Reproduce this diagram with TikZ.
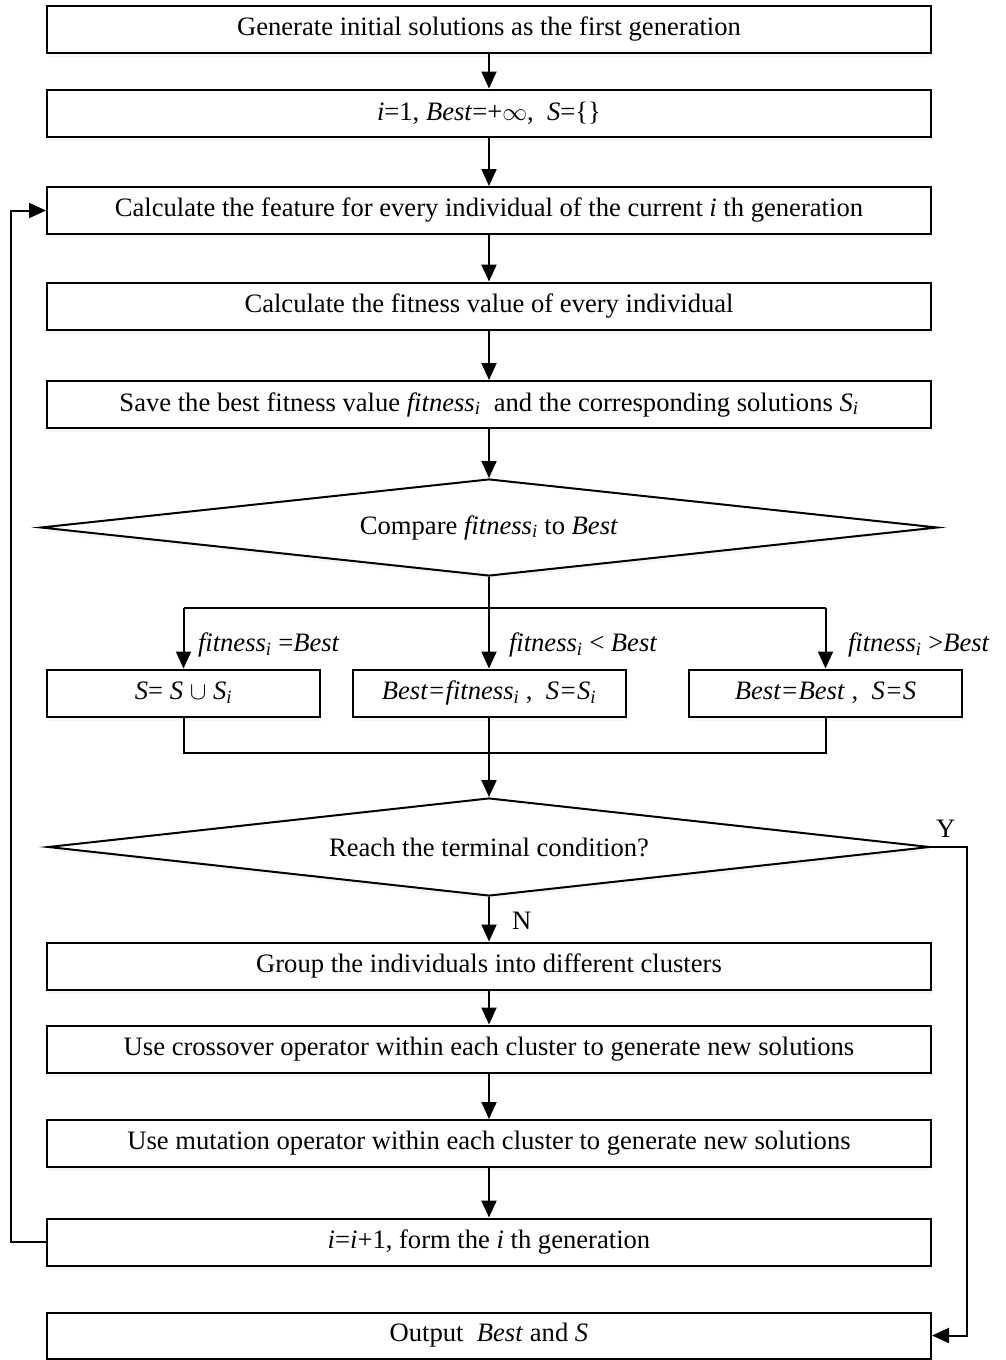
\documentclass[tikz,border=0pt]{standalone}
\usepackage{fontspec}
\setmainfont{Liberation Serif}
\usetikzlibrary{arrows.meta,shapes.geometric,shadows}
\definecolor{shadowblue}{RGB}{232,239,249}
\newcommand{\sub}[2]{\textit{#1}\textsubscript{\textit{#2}}}
\begin{document}
\begin{tikzpicture}[x=1pt,y=-1pt,
  font=\fontsize{26.6}{30}\selectfont,
  line width=2pt,
  haze/.style={drop shadow={shadow xshift=1pt,shadow yshift=-4pt,fill=shadowblue,draw=none}},
  box/.style={draw,fill=white,minimum width=884pt,minimum height=47pt,inner sep=0pt,haze},
  smallbox/.style={draw,fill=white,minimum width=273pt,minimum height=47pt,inner sep=0pt,haze},
  decision/.style={draw,fill=white,shape=diamond,aspect=9,inner sep=0pt,haze},
  arr/.style={-{Triangle[length=17pt,width=15pt]}},
  lbl/.style={anchor=west,inner sep=0pt},
]
\useasboundingbox (0,0) rectangle (1006,1360);

% main column
\node[box] (b1) at (489,29) {Generate initial solutions as the first generation};
\node[box] (b2) at (489,113) {\textit{i}=1, \textit{Best}=+$\infty$,\ \ \textit{S}=\{\}};
\node[box] (b3) at (489,210.5) {Calculate the feature for every individual of the current \textit{i} th generation};
\node[box] (b4) at (489,306) {Calculate the fitness value of every individual};
\node[box] (b5) at (489,404.5) {Save the best fitness value \sub{fitness}{i}\ \ and the corresponding solutions \sub{S}{i}};
\node[decision,minimum width=897pt,minimum height=97pt] (d1) at (489,527.5) {Compare \sub{fitness}{i} to \textit{Best}};

% three branches
\node[smallbox] (bA) at (183.5,693) {\textit{S}= \textit{S} $\cup$ \sub{S}{i}};
\node[smallbox] (bB) at (489,693) {\textit{Best=}\sub{fitness}{i} ,\ \ \textit{S=}\sub{S}{i}};
\node[smallbox] (bC) at (825.5,693) {\textit{Best=Best} ,\ \ \textit{S=S}};

\node[decision,minimum width=882pt,minimum height=98pt] (d2) at (489,847) {Reach the terminal condition?};

\node[box] (b6) at (489,966) {Group the individuals into different clusters};
\node[box] (b7) at (489,1049) {Use crossover operator within each cluster to generate new solutions};
\node[box] (b8) at (489,1143.5) {Use mutation operator within each cluster to generate new solutions};
\node[box] (b9) at (489,1242) {\textit{i}=\textit{i}+1, form the \textit{i} th generation};
\node[box,minimum height=46pt] (b10) at (489,1335.5) {Output\ \ \textit{Best} and \textit{S}};

% straight flow
\draw[arr] (b1) -- (b2);
\draw[arr] (b2) -- (b3);
\draw[arr] (b3) -- (b4);
\draw[arr] (b4) -- (b5);
\draw[arr] (b5) -- (d1);

% split into the three cases
\coordinate (br) at (489,608);
\draw[arr] (d1.south) -- (bB.north);
\draw (br -| bA) -- (br -| bC);
\draw[arr] (br -| bA) -- (bA.north);
\draw[arr] (br -| bC) -- (bC.north);
\node[lbl] (lA) at (197,645) {\sub{fitness}{i} =\textit{Best}};
\node[lbl] (lB) at (508,645) {\sub{fitness}{i} < \textit{Best}};
\node[lbl] (lC) at (847,645) {\sub{fitness}{i} >\textit{Best}};

% merge
\coordinate (mg) at (489,753);
\draw (bA.south) |- (mg) -| (bC.south);
\draw[arr] (bB.south) -- (d2.north);

% termination test
\draw[arr] (d2.south) -- (b6.north);
\node[lbl] (nN) at (511,921) {N};
\coordinate (yc) at (967,847);
\draw[arr] (d2.east) -- (yc) |- (b10.east);
\node[lbl] (nY) at (935,829) {Y};

\draw[arr] (b6) -- (b7);
\draw[arr] (b7) -- (b8);
\draw[arr] (b8) -- (b9);

% loop back to the feature step
\coordinate (fb) at (11,1242);
\draw[arr] (b9.west) -- (fb) |- (b3.west);
\end{tikzpicture}
\end{document}
